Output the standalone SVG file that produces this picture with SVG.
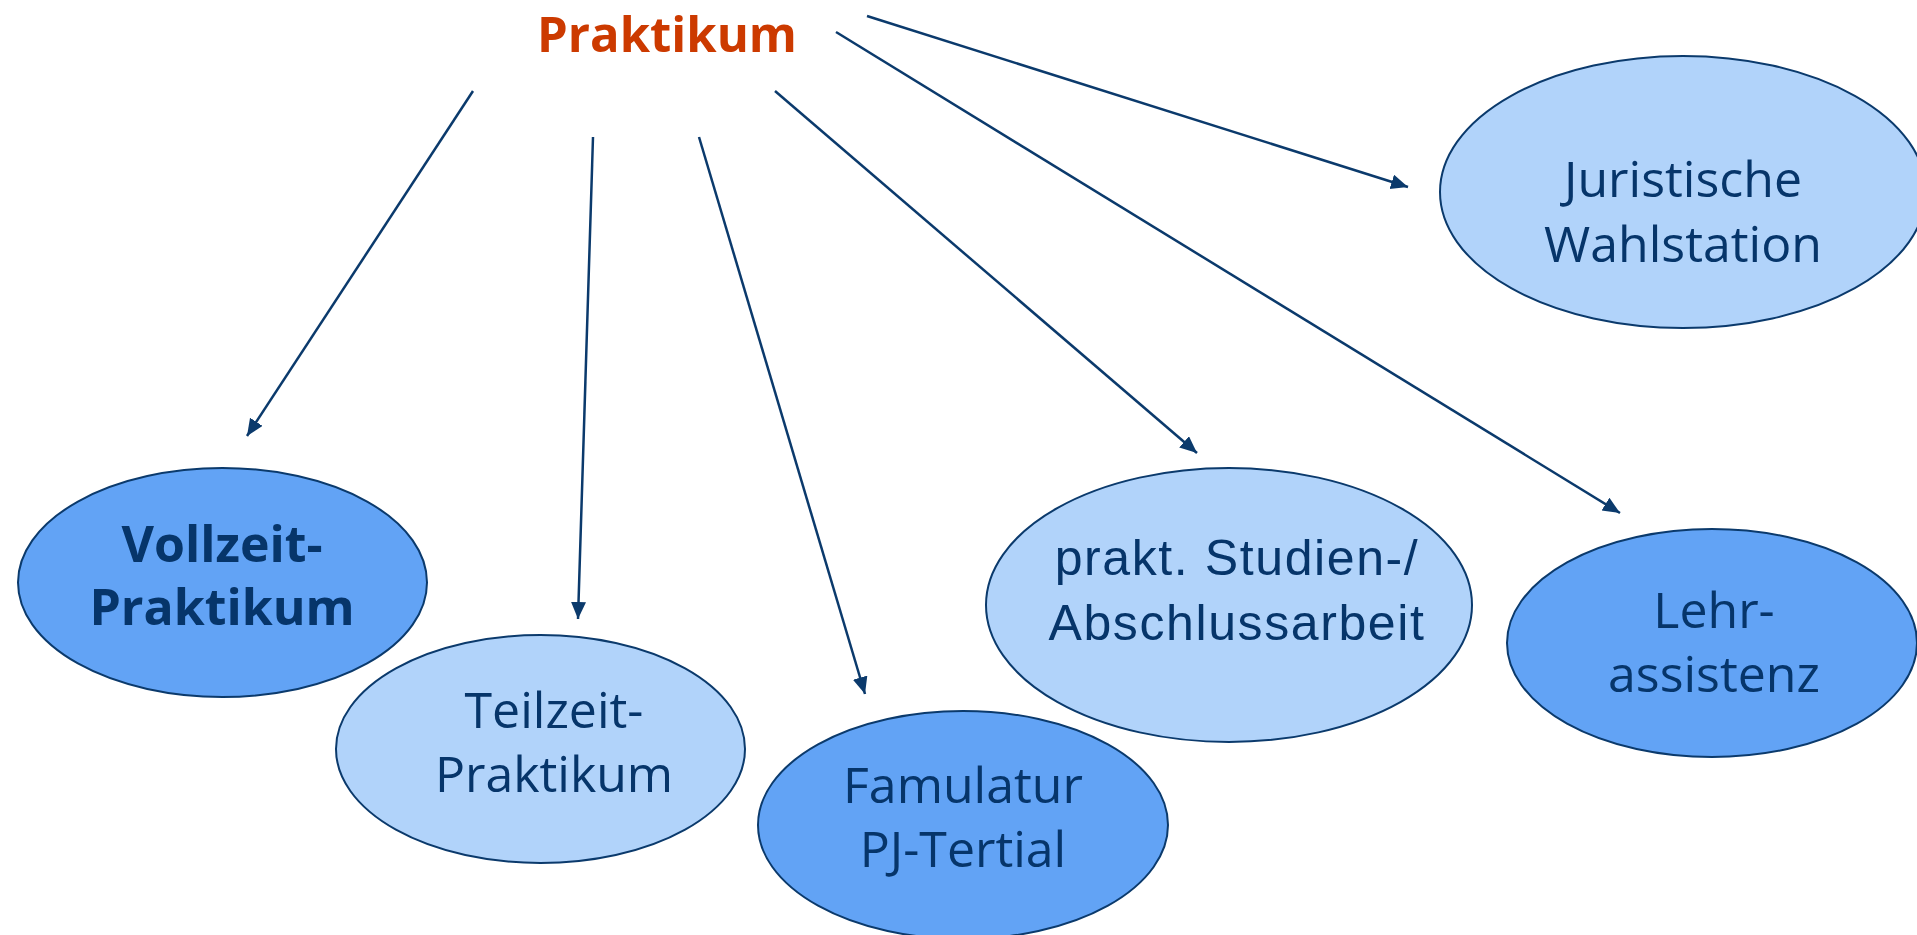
<svg xmlns="http://www.w3.org/2000/svg" width="1917" height="935" viewBox="0 0 1917 935">
  <defs>
    <style>
      .node-dark { fill: #62A3F5; stroke: #0B3A6C; stroke-width: 2; }
      .node-light { fill: #B1D3FA; stroke: #0B3A6C; stroke-width: 2; }
      .lbl { font-family: "Open Sans", "Noto Sans", sans-serif; font-size: 50px; fill: #06356A; text-anchor: middle; }
      .lbl-bold { font-family: "Open Sans", "Noto Sans", sans-serif; font-size: 50px; font-weight: bold; fill: #06356A; text-anchor: middle; }
      .lbl-arial { font-family: "Liberation Sans", Arial, sans-serif; font-size: 50px; fill: #06356A; text-anchor: middle; letter-spacing: 1.6px; }
      .title { font-family: "Open Sans", "Noto Sans", sans-serif; font-size: 49px; font-weight: bold; fill: #CC3A00; text-anchor: middle; }
      .conn { stroke: #0B3A6C; stroke-width: 2.5; fill: none; marker-end: url(#arrow); }
    </style>
    <marker id="arrow" markerUnits="userSpaceOnUse" markerWidth="18" markerHeight="16" refX="17" refY="7.5" orient="auto">
      <path d="M0,0 L17,7.5 L0,15 z" fill="#0B3A6C"/>
    </marker>
  </defs>
  <rect width="1917" height="935" fill="#FFFFFF"/>

  <g id="title">
    <text class="title" x="667" y="52">Praktikum</text>
  </g>

  <g id="connectors">
    <line class="conn" x1="473" y1="91" x2="247" y2="436"/>
    <line class="conn" x1="593" y1="137" x2="578" y2="619"/>
    <line class="conn" x1="699" y1="137" x2="865" y2="694"/>
    <line class="conn" x1="775" y1="91" x2="1197" y2="453"/>
    <line class="conn" x1="836" y1="32" x2="1620" y2="513"/>
    <line class="conn" x1="867" y1="16" x2="1408" y2="187"/>
  </g>

  <g id="node-vollzeit">
    <ellipse class="node-dark" cx="222.5" cy="582.5" rx="204.5" ry="114.5"/>
    <text class="lbl-bold" x="222" y="562">Vollzeit-</text>
    <text class="lbl-bold" x="222" y="625">Praktikum</text>
  </g>

  <g id="node-teilzeit">
    <ellipse class="node-light" cx="540.5" cy="749" rx="204.5" ry="114"/>
    <text class="lbl" x="554" y="728">Teilzeit-</text>
    <text class="lbl" x="554" y="792">Praktikum</text>
  </g>

  <g id="node-famulatur">
    <ellipse class="node-dark" cx="963" cy="825" rx="205" ry="114"/>
    <text class="lbl" x="963" y="803">Famulatur</text>
    <text class="lbl" x="963" y="867">PJ-Tertial</text>
  </g>

  <g id="node-studienarbeit">
    <ellipse class="node-light" cx="1229" cy="605" rx="243" ry="137"/>
    <text class="lbl-arial" x="1237" y="575">prakt. Studien-/</text>
    <text class="lbl-arial" x="1237" y="640">Abschlussarbeit</text>
  </g>

  <g id="node-juristische">
    <ellipse class="node-light" cx="1683" cy="192" rx="243" ry="136"/>
    <text class="lbl" x="1683" y="197">Juristische</text>
    <text class="lbl" x="1683" y="262">Wahlstation</text>
  </g>

  <g id="node-lehrassistenz">
    <ellipse class="node-dark" cx="1712" cy="643" rx="205" ry="114"/>
    <text class="lbl" x="1714" y="628">Lehr-</text>
    <text class="lbl" x="1714" y="692">assistenz</text>
  </g>
</svg>
